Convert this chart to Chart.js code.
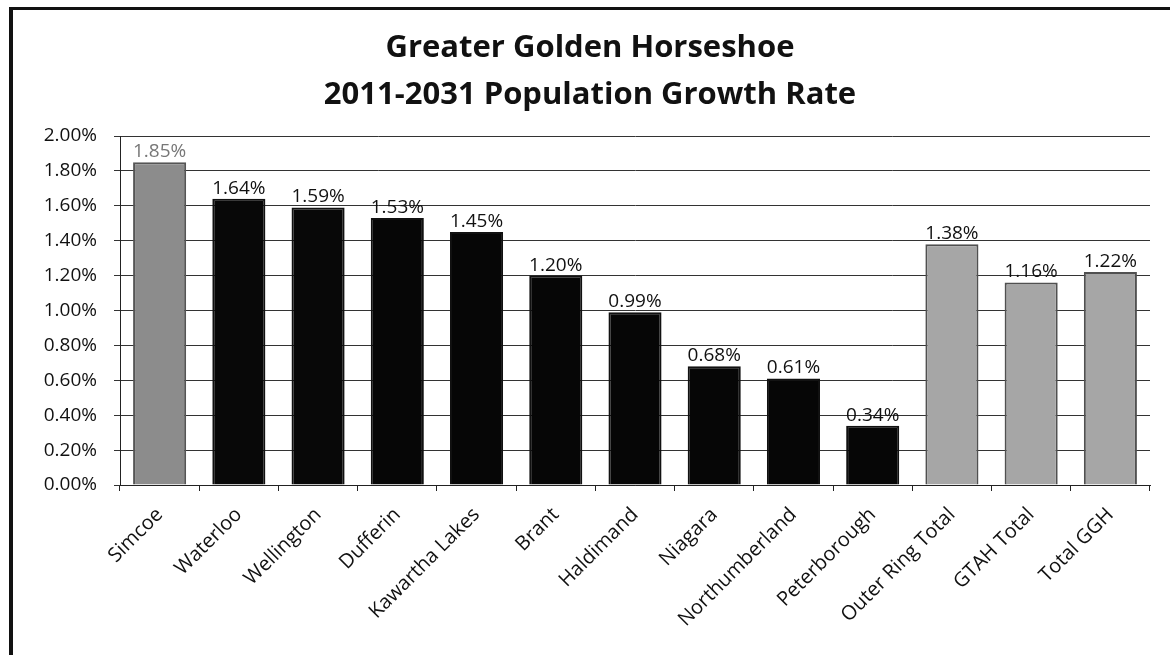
<!DOCTYPE html>
<html>
<head>
<meta charset="utf-8">
<script src="https://cdn.jsdelivr.net/npm/chart.js@4/dist/chart.umd.min.js"></script>
<style>
  html, body { margin: 0; padding: 0; background: #fff; }
  #wrap { position: relative; width: 1170px; height: 655px; }
  #frame { position: absolute; left: 9px; top: 7px; right: 0; bottom: 0;
           border-top: 3px solid #111; border-left: 4px solid #111; pointer-events: none; }
  canvas { position: absolute; left: 0; top: 0; }
</style>
</head>
<body>
<div id="wrap">
  <canvas id="growth" width="1170" height="655"></canvas>
  <div id="frame"></div>
</div>
<script>
const regions = ['Simcoe', 'Waterloo', 'Wellington', 'Dufferin', 'Kawartha Lakes', 'Brant',
  'Haldimand', 'Niagara', 'Northumberland', 'Peterborough', 'Outer Ring Total', 'GTAH Total', 'Total GGH'];
const growthRate = [1.85, 1.64, 1.59, 1.53, 1.45, 1.20, 0.99, 0.68, 0.61, 0.34, 1.38, 1.16, 1.22];
const barColors = ['#8c8c8c', '#080808', '#080808', '#060606', '#060606', '#060606', '#060606',
  '#060606', '#060606', '#060606', '#a6a6a6', '#a6a6a6', '#a6a6a6'];
const borderColors = ['#555', '#111', '#111', '#111', '#111', '#111', '#111',
  '#111', '#111', '#111', '#505050', '#505050', '#505050'];
const labelColors = ['#777', '#111', '#111', '#111', '#111', '#111', '#111',
  '#111', '#111', '#111', '#111', '#111', '#111'];
const yTicks = [0, 0.2, 0.4, 0.6, 0.8, 1.0, 1.2, 1.4, 1.6, 1.8, 2.0];

// value labels above each bar
const valueLabels = {
  id: 'valueLabels',
  afterDatasetsDraw(chart) {
    const ctx = chart.ctx;
    const meta = chart.getDatasetMeta(0);
    ctx.save();
    ctx.font = '19px "Open Sans"';
    ctx.textAlign = 'center';
    ctx.textBaseline = 'bottom';
    meta.data.forEach((bar, i) => {
      ctx.fillStyle = labelColors[i];
      ctx.fillText(growthRate[i].toFixed(2) + '%', bar.x, bar.y - 1);
    });
    ctx.restore();
  }
};

// nudge the title a little right, as in the original
const titleShift = {
  id: 'titleShift',
  afterLayout(chart) {
    chart.titleBlock.left += 10;
    chart.titleBlock.right += 10;
  }
};

const data = {
  labels: regions,
  datasets: [{
    data: growthRate,
    backgroundColor: barColors,
    borderColor: borderColors,
    borderWidth: 2,
    barPercentage: 0.67,
    categoryPercentage: 1.0
  }]
};

const config = {
  type: 'bar',
  data: data,
  options: {
    responsive: false,
    animation: false,
    layout: { padding: { left: 10, right: 20, top: 10, bottom: 0 } },
    plugins: {
      legend: { display: false },
      tooltip: { enabled: false },
      title: {
        display: true,
        text: ['Greater Golden Horseshoe', '2011-2031 Population Growth Rate'],
        color: '#111',
        font: { family: 'Open Sans', size: 31, weight: 'bold', lineHeight: 1.5 },
        padding: { top: 15, bottom: 18 }
      }
    },
    scales: {
      x: {
        grid: { display: true, drawOnChartArea: false, color: '#222', tickLength: 6, offset: true },
        border: { display: true, color: '#222', width: 1 },
        ticks: {
          color: '#111', maxRotation: 45, minRotation: 45, autoSkip: false,
          font: { family: 'Open Sans', size: 20 }, padding: 12
        },
        afterFit: s => { s.height = 170; }
      },
      y: {
        min: 0, max: 2,
        afterBuildTicks: s => { s.ticks = yTicks.map(v => ({ value: v })); },
        grid: { color: '#333', lineWidth: 1, tickLength: 6, borderDash: [5, 2] },
        border: { display: true, color: '#222', width: 1 },
        ticks: {
          color: '#111', padding: 17,
          font: { family: 'Open Sans', size: 19 },
          callback: v => v.toFixed(2) + '%'
        },
        afterFit: s => { s.width = 110; }
      }
    }
  },
  plugins: [valueLabels, titleShift]
};

let growthChart = document.getElementById('growth').getContext('2d');
new Chart(growthChart, config);
</script>
</body>
</html>
